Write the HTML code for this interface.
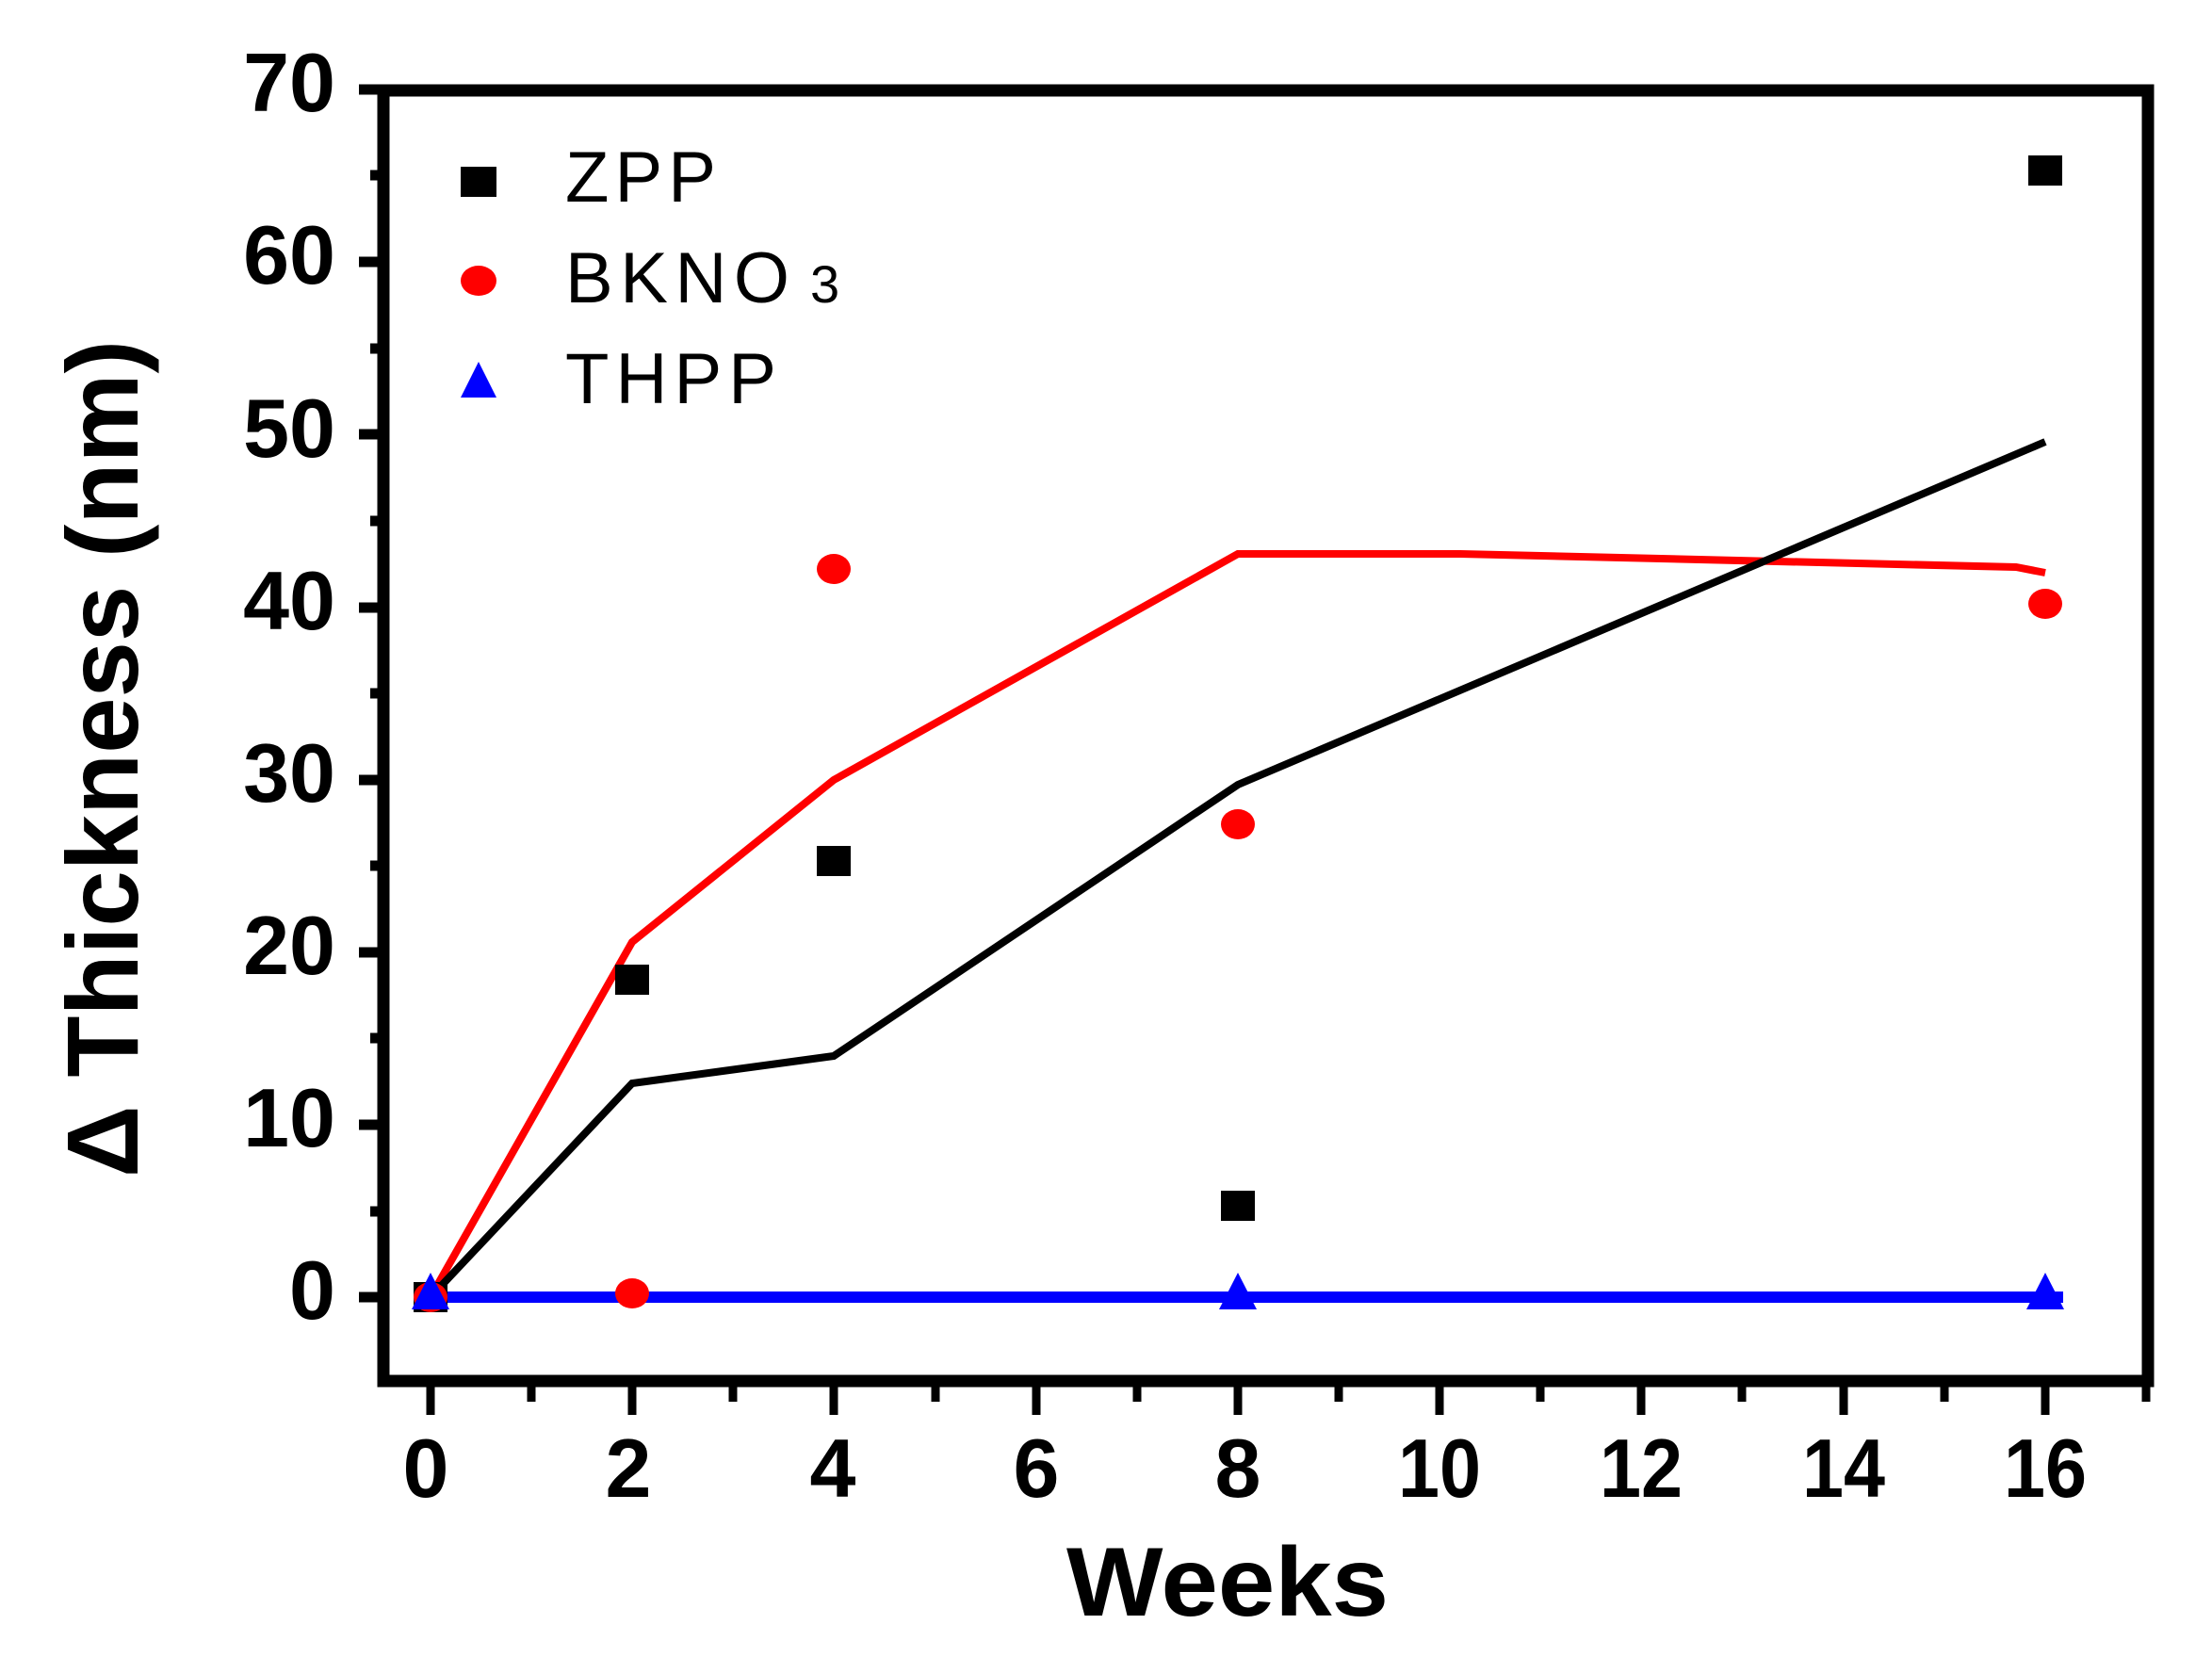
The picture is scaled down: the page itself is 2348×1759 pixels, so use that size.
<!DOCTYPE html>
<html><head><meta charset="utf-8"><style>
html,body{margin:0;padding:0;background:#fff;}
svg{display:block;}
text{font-family:"Liberation Sans",sans-serif;}
</style></head><body>
<svg width="2348" height="1759" viewBox="0 0 2348 1759" xmlns="http://www.w3.org/2000/svg">
<rect x="407" y="96" width="1873" height="1370" fill="none" stroke="#000" stroke-width="13"/>
<g stroke="#000" stroke-width="11">
<line x1="381" y1="95" x2="407" y2="95"/>
<line x1="393" y1="186" x2="407" y2="186"/>
<line x1="381" y1="278" x2="407" y2="278"/>
<line x1="393" y1="370" x2="407" y2="370"/>
<line x1="381" y1="461" x2="407" y2="461"/>
<line x1="393" y1="553" x2="407" y2="553"/>
<line x1="381" y1="645" x2="407" y2="645"/>
<line x1="393" y1="736" x2="407" y2="736"/>
<line x1="381" y1="828" x2="407" y2="828"/>
<line x1="393" y1="919" x2="407" y2="919"/>
<line x1="381" y1="1011" x2="407" y2="1011"/>
<line x1="393" y1="1102" x2="407" y2="1102"/>
<line x1="381" y1="1194" x2="407" y2="1194"/>
<line x1="393" y1="1286" x2="407" y2="1286"/>
<line x1="381" y1="1377" x2="407" y2="1377"/>
</g>
<g stroke="#000" stroke-width="9">
<line x1="457" y1="1466" x2="457" y2="1502"/>
<line x1="564" y1="1466" x2="564" y2="1488"/>
<line x1="671" y1="1466" x2="671" y2="1502"/>
<line x1="778" y1="1466" x2="778" y2="1488"/>
<line x1="885" y1="1466" x2="885" y2="1502"/>
<line x1="993" y1="1466" x2="993" y2="1488"/>
<line x1="1100" y1="1466" x2="1100" y2="1502"/>
<line x1="1207" y1="1466" x2="1207" y2="1488"/>
<line x1="1314" y1="1466" x2="1314" y2="1502"/>
<line x1="1421" y1="1466" x2="1421" y2="1488"/>
<line x1="1528" y1="1466" x2="1528" y2="1502"/>
<line x1="1635" y1="1466" x2="1635" y2="1488"/>
<line x1="1742" y1="1466" x2="1742" y2="1502"/>
<line x1="1849" y1="1466" x2="1849" y2="1488"/>
<line x1="1957" y1="1466" x2="1957" y2="1502"/>
<line x1="2064" y1="1466" x2="2064" y2="1488"/>
<line x1="2171" y1="1466" x2="2171" y2="1502"/>
<line x1="2278" y1="1466" x2="2278" y2="1488"/>
</g>
<g font-size="88" font-weight="bold" text-anchor="end">
<text x="356" y="118">70</text>
<text x="356" y="301">60</text>
<text x="356" y="485">50</text>
<text x="356" y="668">40</text>
<text x="356" y="851">30</text>
<text x="356" y="1034">20</text>
<text x="356" y="1217">10</text>
<text x="356" y="1400">0</text>
</g>
<g font-size="88" font-weight="bold" text-anchor="middle">
<text x="452" y="1589">0</text>
<text x="667" y="1589">2</text>
<text x="884" y="1589">4</text>
<text x="1100" y="1589">6</text>
<text x="1314" y="1589">8</text>
<text x="1528" y="1589" textLength="88" lengthAdjust="spacingAndGlyphs">10</text>
<text x="1742" y="1589" textLength="88" lengthAdjust="spacingAndGlyphs">12</text>
<text x="1957" y="1589" textLength="88" lengthAdjust="spacingAndGlyphs">14</text>
<text x="2171" y="1589" textLength="88" lengthAdjust="spacingAndGlyphs">16</text>
</g>
<text x="1132" y="1715" font-size="104" font-weight="bold" textLength="342" lengthAdjust="spacingAndGlyphs">Weeks</text>
<text transform="translate(146,1250) rotate(-90)" x="0" y="0" font-size="108" font-weight="bold" textLength="889" lengthAdjust="spacingAndGlyphs">Δ Thickness (nm)</text>
<polyline points="457,1377 671,1000 885,828 1314,588 1550,588 2140,602 2171,608" fill="none" stroke="#ff0000" stroke-width="8"/>
<polyline points="457,1377 671,1150 885,1121 1314,833 2171,469" fill="none" stroke="#000" stroke-width="8"/>
<line x1="440" y1="1377" x2="2190" y2="1377" stroke="#0000ff" stroke-width="12"/>
<g fill="#000">
<rect x="439" y="1361" width="36" height="32"/>
<rect x="653" y="1024" width="36" height="32"/>
<rect x="867" y="898" width="36" height="32"/>
<rect x="1296" y="1264" width="36" height="32"/>
<rect x="2153" y="165" width="36" height="32"/>
</g>
<g fill="#ff0000">
<ellipse cx="457" cy="1377" rx="18" ry="16"/>
<ellipse cx="671" cy="1373" rx="18" ry="16"/>
<ellipse cx="885" cy="604" rx="18" ry="16"/>
<ellipse cx="1314" cy="875" rx="18" ry="16"/>
<ellipse cx="2171" cy="641" rx="18" ry="16"/>
</g>
<g fill="#0000ff">
<polygon points="457,1351 477,1390 437,1390"/>
<polygon points="1314,1351 1334,1390 1294,1390"/>
<polygon points="2171,1351 2191,1390 2151,1390"/>
</g>
<rect x="489" y="177" width="38" height="32" fill="#000"/>
<ellipse cx="508" cy="298" rx="19" ry="16" fill="#ff0000"/>
<polygon points="508,384 527,422 489,422" fill="#0000ff"/>
<g font-size="76">
<text x="600" y="214" textLength="160" lengthAdjust="spacing">ZPP</text>
<text x="600" y="321" textLength="238" lengthAdjust="spacing">BKNO</text>
<text x="860" y="321" font-size="56">3</text>
<text x="600" y="428" textLength="224" lengthAdjust="spacing">THPP</text>
</g>
</svg>
</body></html>
